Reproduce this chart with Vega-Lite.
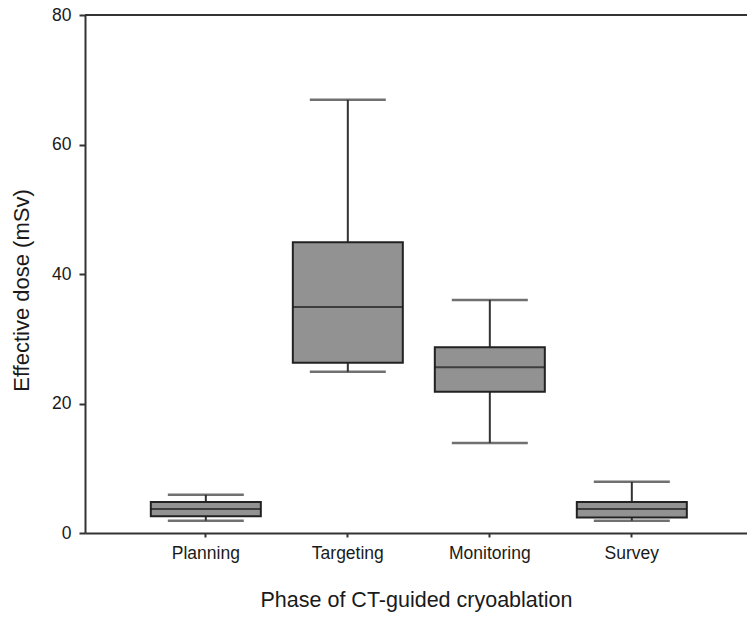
{
  "$schema": "https://vega.github.io/schema/vega-lite/v6.json",
  "autosize": "none",
  "width": 662,
  "height": 518,
  "padding": {"left": 85, "top": 15, "right": 0, "bottom": 89},
  "background": "white",
  "config": {
    "view": {"stroke": null},
    "font": "Liberation Sans",
    "axis": {"grid": false, "labelFont": "Liberation Sans", "titleFont": "Liberation Sans", "labelColor": "#1a1a1a", "titleColor": "#1a1a1a", "titleFontWeight": "normal", "domainColor": "#333", "tickColor": "#333", "domainWidth": 2, "tickWidth": 2}
  },
  "data": {
    "values": [
      {"phase": "Planning", "min": 1.9, "q1": 2.6, "median": 3.7, "q3": 4.8, "max": 5.9},
      {"phase": "Targeting", "min": 24.9, "q1": 26.3, "median": 34.9, "q3": 44.9, "max": 66.9},
      {"phase": "Monitoring", "min": 13.9, "q1": 21.8, "median": 25.6, "q3": 28.7, "max": 36.0},
      {"phase": "Survey", "min": 1.9, "q1": 2.4, "median": 3.7, "q3": 4.8, "max": 7.9}
    ]
  },
  "encoding": {
    "x": {
      "field": "phase", "type": "nominal", "sort": ["Planning", "Targeting", "Monitoring", "Survey"],
      "scale": {"paddingInner": 0, "paddingOuter": 0.331, "align": 0.53},
      "axis": {"title": "Phase of CT-guided cryoablation", "labelAngle": 0, "labelFontSize": 17.5, "titleFontSize": 21.5, "tickSize": 4, "labelPadding": 7, "titlePadding": 28}
    }
  },
  "layer": [
    {
      "mark": {"type": "rule", "color": "#333", "strokeWidth": 2},
      "encoding": {
        "y": {"field": "min", "type": "quantitative", "scale": {"domain": [0, 80], "nice": false},
          "axis": {"title": "Effective dose (mSv)", "values": [0, 20, 40, 60, 80], "labelFontSize": 17.5, "titleFontSize": 22, "tickSize": 6, "labelPadding": 8, "titlePadding": 18, "titleY": 275}},
        "y2": {"field": "max"}
      }
    },
    {
      "mark": {"type": "bar", "size": 110, "fill": "#929292", "stroke": "#222", "strokeWidth": 2},
      "encoding": {
        "y": {"field": "q1", "type": "quantitative"},
        "y2": {"field": "q3"}
      }
    },
    {
      "mark": {"type": "tick", "size": 110, "color": "#1a1a1a", "thickness": 2},
      "encoding": {"y": {"field": "median", "type": "quantitative"}}
    },
    {
      "mark": {"type": "tick", "size": 76, "color": "#333", "thickness": 2.5},
      "encoding": {"y": {"field": "min", "type": "quantitative"}}
    },
    {
      "mark": {"type": "tick", "size": 76, "color": "#333", "thickness": 2.5},
      "encoding": {"y": {"field": "max", "type": "quantitative"}}
    },
    {
      "data": {"values": [{"top": 80}]},
      "mark": {"type": "rule", "color": "#333", "strokeWidth": 2},
      "encoding": {"y": {"field": "top", "type": "quantitative"}, "x": {"value": 0}, "x2": {"value": 662}}
    }
  ]
}
